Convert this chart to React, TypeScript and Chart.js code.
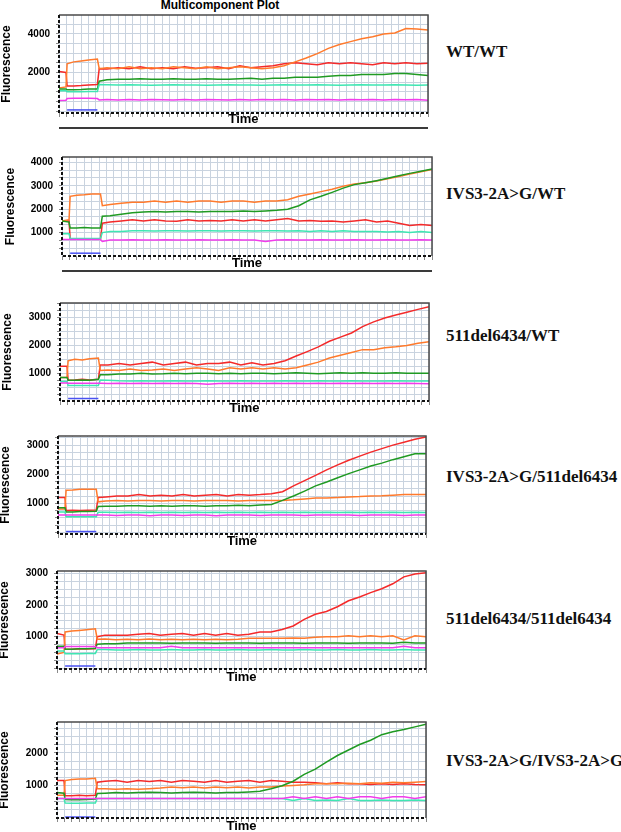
import React, { useEffect, useRef } from "react";
import { Chart, registerables } from "chart.js";

Chart.register(...registerables);

// ---------- DATA ----------
// shared time axis (percent of run)
const TIME = [0, 1.9, 2.2, 4, 6, 8, 10.4, 10.9, 13, 16, 19, 22, 25, 28, 31, 34, 37, 40, 43, 46, 49, 52, 55, 58, 61, 64, 67, 70, 73, 76, 79, 82, 85, 88, 91, 94, 97, 100];
const BLUE_TIME = [2.2, 10.4];

const GENOTYPES = ["WT/WT", "IVS3-2A>G/WT", "511del6434/WT", "IVS3-2A>G/511del6434", "511del6434/511del6434", "IVS3-2A>G/IVS3-2A>G"];

// Panel 1 — WT/WT
const RED_1 = [2050, 2000, 1300, 1300, 1320, 1350, 1380, 2200, 2180, 2250, 2200, 2300, 2200, 2250, 2200, 2300, 2220, 2250, 2300, 2200, 2350, 2250, 2300, 2350, 2450, 2500, 2450, 2400, 2500, 2450, 2500, 2450, 2400, 2500, 2450, 2500, 2450, 2480];
const ORANGE_1 = [1200, 1250, 2450, 2550, 2600, 2650, 2700, 2200, 2250, 2200, 2300, 2200, 2250, 2200, 2300, 2250, 2200, 2300, 2200, 2250, 2300, 2250, 2200, 2250, 2350, 2550, 2750, 2980, 3250, 3450, 3600, 3750, 3850, 4000, 4050, 4280, 4250, 4200];
const GREEN_1 = [1150, 1150, 1100, 1100, 1120, 1150, 1150, 1550, 1620, 1650, 1650, 1680, 1650, 1650, 1680, 1650, 1650, 1680, 1650, 1650, 1680, 1700, 1650, 1700, 1700, 1750, 1750, 1750, 1800, 1850, 1850, 1900, 1900, 1900, 1950, 1950, 1900, 1850];
const CYAN_1 = [1050, 1050, 1000, 1000, 1000, 1020, 1020, 1380, 1370, 1350, 1360, 1350, 1340, 1350, 1360, 1350, 1350, 1340, 1350, 1360, 1350, 1350, 1340, 1350, 1360, 1350, 1350, 1360, 1350, 1340, 1350, 1360, 1350, 1350, 1360, 1350, 1340, 1350];
const MAGENTA_1 = [550, 560, 650, 660, 660, 660, 650, 580, 600, 580, 600, 580, 600, 590, 580, 600, 580, 600, 590, 580, 600, 580, 600, 590, 600, 580, 600, 590, 600, 580, 600, 590, 600, 580, 600, 590, 600, 560];
const BLUE_1 = [60, 60];

// Panel 2 — IVS3-2A>G/WT
const RED_2 = [1500, 1500, 750, 720, 720, 720, 720, 1400, 1450, 1500, 1550, 1500, 1550, 1500, 1480, 1550, 1500, 1520, 1500, 1550, 1500, 1550, 1500, 1550, 1600, 1500, 1520, 1480, 1500, 1450, 1500, 1550, 1450, 1500, 1400, 1300, 1350, 1300];
const ORANGE_2 = [1500, 1550, 2550, 2600, 2620, 2650, 2650, 2150, 2200, 2250, 2300, 2300, 2350, 2300, 2350, 2300, 2350, 2350, 2300, 2350, 2350, 2300, 2350, 2350, 2400, 2550, 2650, 2750, 2850, 2980, 3080, 3130, 3200, 3300, 3400, 3500, 3600, 3700];
const GREEN_2 = [1500, 1450, 1200, 1200, 1220, 1200, 1200, 1700, 1720, 1780, 1850, 1880, 1900, 1880, 1900, 1900, 1880, 1900, 1900, 1900, 1920, 1900, 1920, 1950, 2000, 2150, 2400, 2550, 2720, 2900, 3050, 3130, 3220, 3320, 3430, 3530, 3620, 3720];
const CYAN_2 = [950, 950, 750, 750, 750, 750, 750, 1000, 1050, 1050, 1080, 1080, 1070, 1080, 1080, 1070, 1080, 1080, 1070, 1080, 1080, 1070, 1080, 1080, 1070, 1080, 1050, 1080, 1050, 1080, 1050, 1050, 1050, 1030, 1050, 1000, 1050, 1000];
const MAGENTA_2 = [700, 700, 700, 700, 700, 700, 700, 620, 680, 680, 690, 680, 680, 690, 680, 680, 690, 680, 680, 690, 680, 680, 620, 680, 690, 680, 680, 690, 680, 680, 690, 680, 680, 690, 680, 680, 690, 680];
const BLUE_2 = [120, 120];

// Panel 3 — 511del6434/WT
const RED_3 = [1250, 1250, 750, 760, 780, 760, 780, 1300, 1300, 1350, 1300, 1350, 1400, 1300, 1350, 1400, 1300, 1350, 1350, 1400, 1300, 1380, 1300, 1350, 1450, 1620, 1780, 1950, 2150, 2300, 2450, 2680, 2850, 2990, 3100, 3200, 3300, 3400];
const ORANGE_3 = [850, 850, 1450, 1500, 1480, 1520, 1550, 1100, 1120, 1100, 1150, 1100, 1120, 1150, 1100, 1150, 1200, 1150, 1100, 1200, 1150, 1200, 1150, 1200, 1150, 1200, 1300, 1400, 1550, 1650, 1750, 1850, 1850, 1920, 1950, 2000, 2080, 2130];
const GREEN_3 = [850, 850, 750, 750, 760, 750, 780, 950, 950, 970, 970, 1000, 970, 980, 1000, 980, 1000, 1000, 980, 1000, 980, 1000, 1000, 980, 1000, 1020, 1000, 980, 1000, 1020, 1000, 1020, 1000, 1000, 1020, 1000, 1000, 1000];
const CYAN_3 = [700, 700, 560, 560, 560, 560, 560, 760, 750, 730, 720, 730, 720, 720, 730, 720, 720, 730, 720, 720, 730, 720, 720, 720, 730, 720, 720, 730, 720, 720, 730, 720, 720, 720, 730, 720, 720, 720];
const MAGENTA_3 = [650, 650, 640, 640, 640, 640, 640, 640, 630, 640, 630, 640, 630, 640, 630, 640, 630, 600, 630, 640, 630, 640, 630, 640, 630, 640, 630, 640, 630, 640, 630, 640, 630, 640, 630, 640, 630, 620];
const BLUE_3 = [90, 90];

// Panel 4 — IVS3-2A>G/511del6434
const RED_4 = [1200, 1200, 750, 760, 750, 760, 770, 1200, 1220, 1250, 1250, 1300, 1250, 1280, 1250, 1300, 1250, 1280, 1300, 1250, 1300, 1280, 1300, 1330, 1400, 1600, 1780, 1960, 2150, 2320, 2480, 2620, 2760, 2880, 3000, 3100, 3200, 3280];
const ORANGE_4 = [800, 800, 1450, 1460, 1480, 1480, 1480, 1050, 1080, 1100, 1080, 1100, 1100, 1080, 1100, 1100, 1080, 1100, 1100, 1100, 1080, 1100, 1100, 1100, 1100, 1120, 1150, 1180, 1180, 1200, 1220, 1230, 1250, 1260, 1280, 1300, 1300, 1300];
const GREEN_4 = [850, 850, 700, 700, 720, 720, 730, 890, 900, 900, 920, 920, 900, 920, 900, 920, 920, 900, 920, 920, 930, 920, 940, 960, 1100, 1250, 1420, 1600, 1730, 1880, 2020, 2150, 2280, 2380, 2500, 2600, 2700, 2700];
const CYAN_4 = [700, 700, 540, 540, 540, 540, 540, 690, 690, 680, 690, 680, 690, 680, 690, 680, 690, 680, 690, 680, 690, 680, 690, 680, 690, 680, 690, 680, 690, 680, 690, 680, 690, 680, 690, 680, 690, 680];
const MAGENTA_4 = [600, 600, 600, 600, 600, 600, 600, 600, 600, 580, 600, 600, 570, 600, 600, 580, 600, 600, 570, 600, 600, 600, 580, 600, 600, 600, 580, 600, 600, 600, 600, 580, 600, 600, 600, 580, 600, 600];
const BLUE_4 = [30, 30];

// Panel 5 — 511del6434/511del6434
const RED_5 = [1100, 1050, 600, 600, 620, 610, 620, 1000, 1050, 1050, 1050, 1080, 1100, 1050, 1080, 1100, 1050, 1100, 1050, 1100, 1050, 1080, 1150, 1150, 1230, 1340, 1550, 1710, 1800, 1950, 2140, 2260, 2400, 2520, 2680, 2900, 2990, 3030];
const ORANGE_5 = [450, 500, 1150, 1180, 1200, 1220, 1250, 920, 930, 900, 920, 900, 930, 900, 920, 900, 920, 900, 920, 900, 920, 950, 950, 950, 950, 960, 950, 980, 1000, 1000, 1030, 1000, 1030, 1000, 1030, 900, 1030, 1000];
const GREEN_5 = [700, 700, 600, 600, 620, 620, 630, 760, 780, 780, 800, 800, 800, 800, 790, 800, 800, 800, 790, 800, 800, 800, 790, 800, 800, 800, 790, 800, 800, 800, 790, 800, 800, 800, 790, 820, 800, 800];
const CYAN_5 = [550, 550, 460, 460, 460, 470, 470, 590, 590, 580, 580, 590, 580, 580, 590, 580, 580, 590, 580, 580, 590, 580, 580, 590, 580, 580, 590, 580, 580, 590, 580, 580, 590, 580, 580, 590, 580, 580];
const MAGENTA_5 = [650, 650, 690, 690, 690, 690, 690, 650, 650, 650, 650, 650, 650, 650, 700, 650, 650, 650, 650, 650, 650, 650, 650, 650, 650, 650, 650, 650, 650, 650, 650, 650, 650, 650, 650, 700, 650, 650];
const BLUE_5 = [70, 70];

// Panel 6 — IVS3-2A>G/IVS3-2A>G
const RED_6 = [1150, 1150, 680, 680, 700, 680, 700, 1100, 1130, 1150, 1100, 1150, 1120, 1150, 1100, 1150, 1130, 1100, 1150, 1100, 1130, 1150, 1100, 1150, 1130, 1100, 1100, 1080, 1050, 1080, 1050, 1050, 1030, 1050, 1030, 1050, 1030, 1020];
const ORANGE_6 = [700, 700, 1150, 1180, 1200, 1200, 1220, 900, 900, 880, 900, 880, 900, 920, 950, 930, 950, 920, 950, 930, 950, 920, 950, 950, 980, 1000, 1020, 1050, 1050, 1050, 1070, 1050, 1080, 1070, 1100, 1080, 1100, 1120];
const GREEN_6 = [780, 760, 570, 560, 560, 570, 580, 750, 760, 780, 770, 780, 790, 780, 770, 780, 790, 780, 770, 780, 780, 800, 820, 900, 990, 1130, 1340, 1500, 1720, 1920, 2090, 2260, 2390, 2560, 2650, 2720, 2800, 2880];
const CYAN_6 = [600, 600, 460, 450, 450, 460, 460, 600, 600, 600, 600, 600, 600, 600, 600, 600, 600, 600, 600, 600, 600, 600, 600, 600, 600, 540, 600, 540, 550, 540, 600, 540, 540, 550, 540, 540, 550, 540];
const MAGENTA_6 = [600, 600, 600, 600, 600, 600, 600, 600, 600, 600, 600, 600, 600, 600, 600, 600, 600, 600, 600, 600, 600, 600, 600, 600, 600, 650, 600, 650, 600, 650, 600, 650, 650, 600, 650, 650, 600, 650];
const BLUE_6 = [30, 30];

// y-axis labelled ticks per panel
const YLABELS_1 = [2000, 4000];
const YLABELS_2 = [1000, 2000, 3000, 4000];
const YLABELS_3 = [1000, 2000, 3000];
const YLABELS_4 = [1000, 2000, 3000];
const YLABELS_5 = [1000, 2000, 3000];
const YLABELS_6 = [1000, 2000];

// ---------- STYLE / LAYOUT ----------
const COLORS = {
  blue: "#4a52f2",
  magenta: "#f23ceb",
  cyan: "#3fe6b2",
  green: "#1f9a22",
  orange: "#ff7a2c",
  red: "#f42a2a",
};
const GRID = "#c9d3df";
const SANS = '"Liberation Sans", Arial, sans-serif';
const SERIF = '"Liberation Serif", "Times New Roman", serif';

const PANELS = [
  { red: RED_1, orange: ORANGE_1, green: GREEN_1, cyan: CYAN_1, magenta: MAGENTA_1, blue: BLUE_1, labels: YLABELS_1,
    left: 59, right: 428, top: 13, bottom: 113, yMin: -100, yMax: 4980, step: 500, yTitleX: 7, timeOff: 6.7, labelY: 52 },
  { red: RED_2, orange: ORANGE_2, green: GREEN_2, cyan: CYAN_2, magenta: MAGENTA_2, blue: BLUE_2, labels: YLABELS_2,
    left: 62, right: 432, top: 155, bottom: 256, yMin: 0, yMax: 4230, step: 1000 / 3, yTitleX: 10.5, timeOff: 7.3, labelY: 194 },
  { red: RED_3, orange: ORANGE_3, green: GREEN_3, cyan: CYAN_3, magenta: MAGENTA_3, blue: BLUE_3, labels: YLABELS_3,
    left: 60, right: 429, top: 301, bottom: 401, yMin: 0, yMax: 3530, step: 250, yTitleX: 7.5, timeOff: 7, labelY: 336 },
  { red: RED_4, orange: ORANGE_4, green: GREEN_4, cyan: CYAN_4, magenta: MAGENTA_4, blue: BLUE_4, labels: YLABELS_4,
    left: 58, right: 426, top: 434, bottom: 534, yMin: -55, yMax: 3313, step: 250, yTitleX: 6, timeOff: 7.4, labelY: 477 },
  { red: RED_5, orange: ORANGE_5, green: GREEN_5, cyan: CYAN_5, magenta: MAGENTA_5, blue: BLUE_5, labels: YLABELS_5,
    left: 57, right: 426, top: 569, bottom: 669, yMin: -25, yMax: 3085, step: 250, yTitleX: 4.5, timeOff: 8, labelY: 619 },
  { red: RED_6, orange: ORANGE_6, green: GREEN_6, cyan: CYAN_6, magenta: MAGENTA_6, blue: BLUE_6, labels: YLABELS_6,
    left: 57, right: 426, top: 720, bottom: 818, yMin: 0, yMax: 2950, step: 250, yTitleX: 4.5, timeOff: 8.4, labelY: 761 },
];

const CANVAS_W = 440;
const PAD_TOP = 10;
const X_AXIS_H = 16;

const framePlugin = {
  id: "frame",
  afterDraw(chart: any) {
    const { ctx, chartArea: a } = chart;
    ctx.save();
    ctx.lineWidth = 1.5;
    // top and right: solid grey
    ctx.strokeStyle = "#4a4a4a";
    ctx.setLineDash([]);
    ctx.beginPath();
    ctx.moveTo(a.left, a.top);
    ctx.lineTo(a.right, a.top);
    ctx.lineTo(a.right, a.bottom);
    ctx.stroke();
    // left and bottom: dashed black
    ctx.strokeStyle = "#111";
    ctx.lineWidth = 2;
    ctx.setLineDash([3, 2]);
    ctx.beginPath();
    ctx.moveTo(a.left, a.top);
    ctx.lineTo(a.left, a.bottom);
    ctx.lineTo(a.right, a.bottom);
    ctx.stroke();
    ctx.restore();
  },
};

function toXY(ts: number[], vs: number[]) {
  return ts.map((t, i) => ({ x: t, y: vs[i] }));
}

function PanelChart({ p }: { p: any }) {
  const ref = useRef<HTMLCanvasElement>(null);
  const h = p.bottom - p.top + PAD_TOP + X_AXIS_H;
  useEffect(() => {
    if (!ref.current) return;
    const ds = (key: string, ts: number[], vs: number[]) => ({
      label: key,
      data: toXY(ts, vs),
      borderColor: (COLORS as any)[key],
      backgroundColor: (COLORS as any)[key],
      borderWidth: 1.5,
      pointRadius: 0,
      tension: 0,
      fill: false,
    });
    const xTicks: number[] = [];
    for (let v = 0; v <= 100; v += 2) xTicks.push(v);
    const yTicks: number[] = [];
    for (let k = Math.floor(p.yMin / p.step) + 1; k * p.step <= p.yMax + 0.01; k++) yTicks.push(k * p.step);

    const chart = new Chart(ref.current, {
      type: "line",
      data: {
        datasets: [
          ds("blue", BLUE_TIME, p.blue),
          ds("magenta", TIME, p.magenta),
          ds("cyan", TIME, p.cyan),
          ds("green", TIME, p.green),
          ds("orange", TIME, p.orange),
          ds("red", TIME, p.red),
        ],
      },
      options: {
        responsive: false,
        maintainAspectRatio: false,
        animation: false,
        devicePixelRatio: 1,
        layout: { padding: { left: 0, top: PAD_TOP, right: CANVAS_W - p.right, bottom: 0 } },
        plugins: { legend: { display: false }, tooltip: { enabled: false }, title: { display: false } },
        scales: {
          x: {
            type: "linear",
            min: 0,
            max: 100,
            afterFit: (s: any) => { s.height = X_AXIS_H; },
            afterBuildTicks: (s: any) => { s.ticks = xTicks.map((v) => ({ value: v })); },
            ticks: { display: false, autoSkip: false },
            grid: { color: GRID, lineWidth: 1, drawTicks: true, tickLength: 4, tickColor: "#8a8a8a" },
            border: { display: false },
            title: {
              display: true,
              text: "Time",
              color: "#000",
              font: { family: SANS, size: 13, weight: "bold", lineHeight: 1 },
              padding: { top: 0, bottom: X_AXIS_H - 6.5 - p.timeOff },
            },
          },
          y: {
            type: "linear",
            min: p.yMin,
            max: p.yMax,
            afterFit: (s: any) => { s.width = p.left; },
            afterBuildTicks: (s: any) => { s.ticks = yTicks.map((v) => ({ value: v })); },
            ticks: {
              autoSkip: false,
              color: "#000",
              padding: 6,
              font: { family: SANS, size: 10, weight: "bold" },
              callback: (v: any) => {
                const r = Math.round(v / 1000) * 1000;
                return Math.abs(v - r) < 1 && p.labels.includes(r) ? String(r) : "";
              },
            },
            grid: { color: GRID, lineWidth: 1, drawTicks: true, tickLength: 3, tickColor: "#8a8a8a" },
            border: { display: false },
            title: {
              display: true,
              text: "Fluorescence",
              color: "#000",
              font: { family: SANS, size: 12, weight: "bold", lineHeight: 1 },
              padding: { top: p.yTitleX - 6, bottom: 0 },
            },
          },
        },
      } as any,
      plugins: [framePlugin],
    });
    return () => chart.destroy();
  }, []);
  return (
    <canvas
      ref={ref}
      width={CANVAS_W}
      height={h}
      style={{ position: "absolute", left: 0, top: p.top - PAD_TOP, width: CANVAS_W, height: h }}
    />
  );
}

export default function App() {
  return (
    <div
      style={{
        position: "absolute",
        left: 0,
        top: 0,
        width: 621,
        height: 832,
        overflow: "hidden",
        background: "#fff",
      }}
    >
      <div
        style={{
          position: "absolute",
          left: 0,
          top: -1,
          width: CANVAS_W,
          textAlign: "center",
          font: `bold 12px ${SANS}`,
          lineHeight: "12px",
          color: "#000",
        }}
      >
        Multicomponent Plot
      </div>
      {PANELS.map((p, i) => (
        <PanelChart key={i} p={p} />
      ))}
      <div style={{ position: "absolute", left: 59, top: 127, width: 369, height: 2, background: "#3a3a3a" }} />
      <div style={{ position: "absolute", left: 62, top: 270, width: 370, height: 2, background: "#3a3a3a" }} />
      {PANELS.map((p, i) => (
        <div
          key={"l" + i}
          style={{
            position: "absolute",
            left: 446,
            top: p.labelY - 10,
            lineHeight: "20px",
            font: `bold 17px ${SERIF}`,
            color: "#111",
            whiteSpace: "nowrap",
          }}
        >
          {GENOTYPES[i]}
        </div>
      ))}
    </div>
  );
}
